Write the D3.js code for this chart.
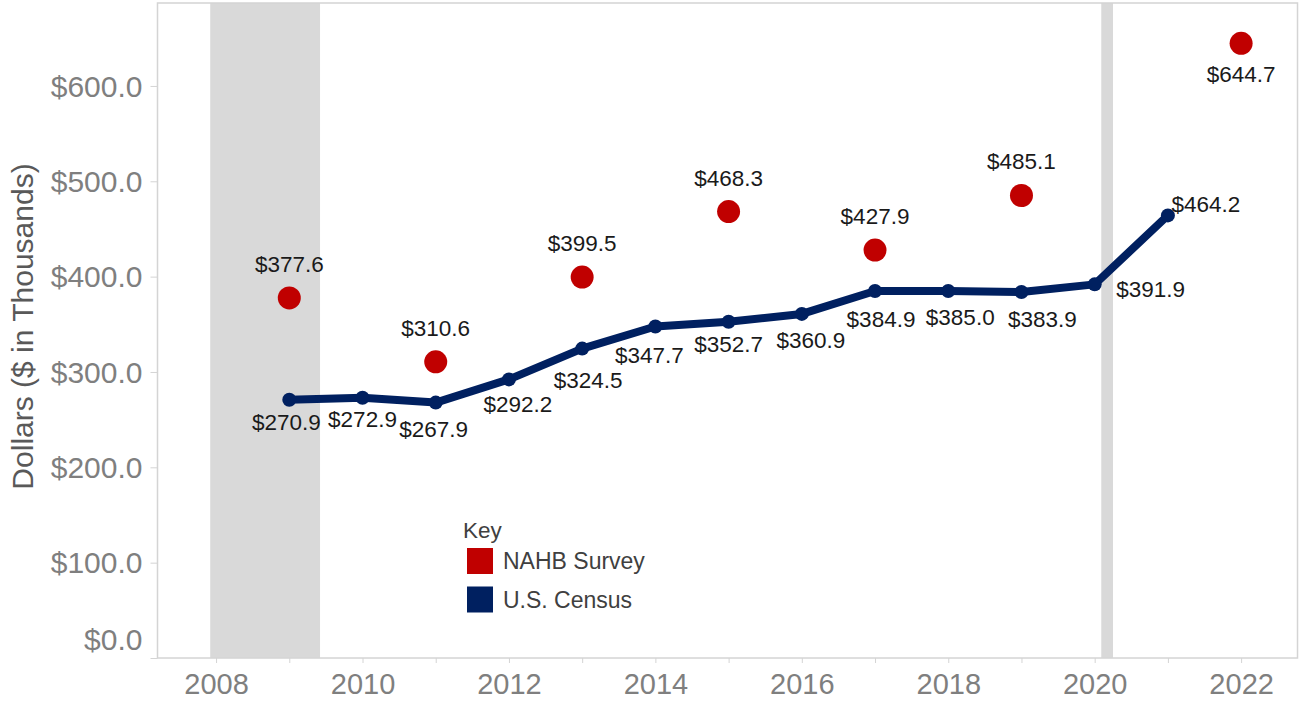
<!DOCTYPE html>
<html>
<head>
<meta charset="utf-8">
<script src="https://cdn.jsdelivr.net/npm/d3@7"></script>
<style>
  body { margin: 0; background: #fff; }
  svg text { font-family: "Liberation Sans", Arial, sans-serif; }
</style>
</head>
<body>
<svg id="chart" width="1302" height="706"></svg>
<script>
// census line (2009-2021)
const censusYears = [2009, 2010, 2011, 2012, 2013, 2014, 2015, 2016, 2017, 2018, 2019, 2020, 2021];
const censusValues = [270.9, 272.9, 267.9, 292.2, 324.5, 347.7, 352.7, 360.9, 384.9, 385.0, 383.9, 391.9, 464.2];
// label nudges for census labels [dx, dy]
const censusNudge = [[-3, 30], [0, 29], [-2, 34], [9, 33], [6, 39], [-6, 37], [0, 30], [9, 34], [6, 36], [12, 34], [21, 35], [56, 13], [38, -3]];

// NAHB survey dots
const nahbYears = [2009, 2011, 2013, 2015, 2017, 2019, 2022];
const nahbValues = [377.6, 310.6, 399.5, 468.3, 427.9, 485.1, 644.7];

// recession shading (start, end)
const recessions = [[2007.92, 2009.42], [2020.09, 2020.25]];

const yTicks = [0, 100, 200, 300, 400, 500, 600];
const xTicks = [2008, 2010, 2012, 2014, 2016, 2018, 2020, 2022];

const navy = '#002060';
const red = '#c00000';
const axisGray = '#d4d4d4';

const svg = d3.select('#chart');

const x = d3.scaleLinear().domain([2007.2, 2022.77]).range([157.5, 1297.5]);
const y = d3.scaleLinear().domain([0, 687]).range([658, 3]);

const fmt = v => '$' + v.toFixed(1);

// recession bars
svg.append('g')
    .selectAll('rect')
    .data(recessions)
    .enter()
    .append('rect')
    .attr('x', d => x(d[0]))
    .attr('y', y(687))
    .attr('width', d => x(d[1]) - x(d[0]))
    .attr('height', y(0) - y(687))
    .style('fill', '#d9d9d9');

// panel border
svg.append('rect')
    .attr('x', x.range()[0])
    .attr('y', y.range()[1])
    .attr('width', x.range()[1] - x.range()[0])
    .attr('height', y.range()[0] - y.range()[1])
    .style('fill', 'none')
    .style('stroke', axisGray)
    .style('stroke-width', 1.5);

// y axis
const yAxis = svg.append('g')
    .attr('transform', `translate(${x.range()[0]},0)`)
    .call(d3.axisLeft(y).tickValues(yTicks).tickSize(7).tickPadding(8).tickFormat(fmt));
yAxis.select('.domain').remove();
yAxis.selectAll('line').style('stroke', axisGray);
yAxis.selectAll('text')
    .style('font-size', '30px')
    .style('fill', '#7f7f7f')
    .attr('dy', d => d === 0 ? '-0.3em' : '0.34em');

// x axis
const allYears = d3.range(2008, 2023);
const xAxis = svg.append('g')
    .attr('transform', `translate(0,${y.range()[0]})`)
    .call(d3.axisBottom(x).tickValues(allYears).tickSize(5).tickPadding(10)
        .tickFormat(d => xTicks.includes(d) ? d : ''));
xAxis.select('.domain').remove();
xAxis.selectAll('line').style('stroke', axisGray);
xAxis.selectAll('text')
    .style('font-size', '29px')
    .style('fill', '#7f7f7f');

// y axis title
svg.append('text')
    .attr('transform', `translate(33,${(y(0) + y(687)) / 2 - 4}) rotate(-90)`)
    .attr('text-anchor', 'middle')
    .style('font-size', '30px')
    .style('fill', '#595959')
    .text('Dollars ($ in Thousands)');

// census line
const census = censusYears.map((yr, i) => ({ year: yr, value: censusValues[i], nudge: censusNudge[i] }));
svg.append('path')
    .datum(census)
    .attr('d', d3.line().x(d => x(d.year)).y(d => y(d.value)))
    .style('fill', 'none')
    .style('stroke', navy)
    .style('stroke-width', 8)
    .style('stroke-linejoin', 'round');

svg.append('g')
    .selectAll('circle')
    .data(census)
    .enter()
    .append('circle')
    .attr('cx', d => x(d.year))
    .attr('cy', d => y(d.value))
    .attr('r', 7)
    .style('fill', navy);

svg.append('g')
    .selectAll('text')
    .data(census)
    .enter()
    .append('text')
    .attr('x', d => x(d.year) + d.nudge[0])
    .attr('y', d => y(d.value) + d.nudge[1])
    .attr('text-anchor', 'middle')
    .style('font-size', '22.5px')
    .style('fill', '#1a1a1a')
    .text(d => fmt(d.value));

// NAHB dots
const nahb = nahbYears.map((yr, i) => ({ year: yr, value: nahbValues[i] }));
svg.append('g')
    .selectAll('circle')
    .data(nahb)
    .enter()
    .append('circle')
    .attr('cx', d => x(d.year))
    .attr('cy', d => y(d.value))
    .attr('r', 11.5)
    .style('fill', red);

svg.append('g')
    .selectAll('text')
    .data(nahb)
    .enter()
    .append('text')
    .attr('x', d => x(d.year))
    .attr('y', d => y(d.value) + (d.year === 2022 ? 39 : -26))
    .attr('text-anchor', 'middle')
    .style('font-size', '22.5px')
    .style('fill', '#1a1a1a')
    .text(d => fmt(d.value));

// legend
const legend = svg.append('g').attr('transform', 'translate(463,0)');
legend.append('text')
    .attr('x', 0).attr('y', 538)
    .style('font-size', '22.5px')
    .style('fill', '#404040')
    .text('Key');
const legendItems = [{ name: 'NAHB Survey', color: red }, { name: 'U.S. Census', color: navy }];
legendItems.forEach((it, i) => {
    legend.append('rect')
        .attr('x', 4).attr('y', 548 + i * 38.5)
        .attr('width', 26).attr('height', 26)
        .style('fill', it.color);
    legend.append('text')
        .attr('x', 40).attr('y', 569 + i * 38.5)
        .style('font-size', '23px')
        .style('fill', '#404040')
        .text(it.name);
});
</script>
</body>
</html>
